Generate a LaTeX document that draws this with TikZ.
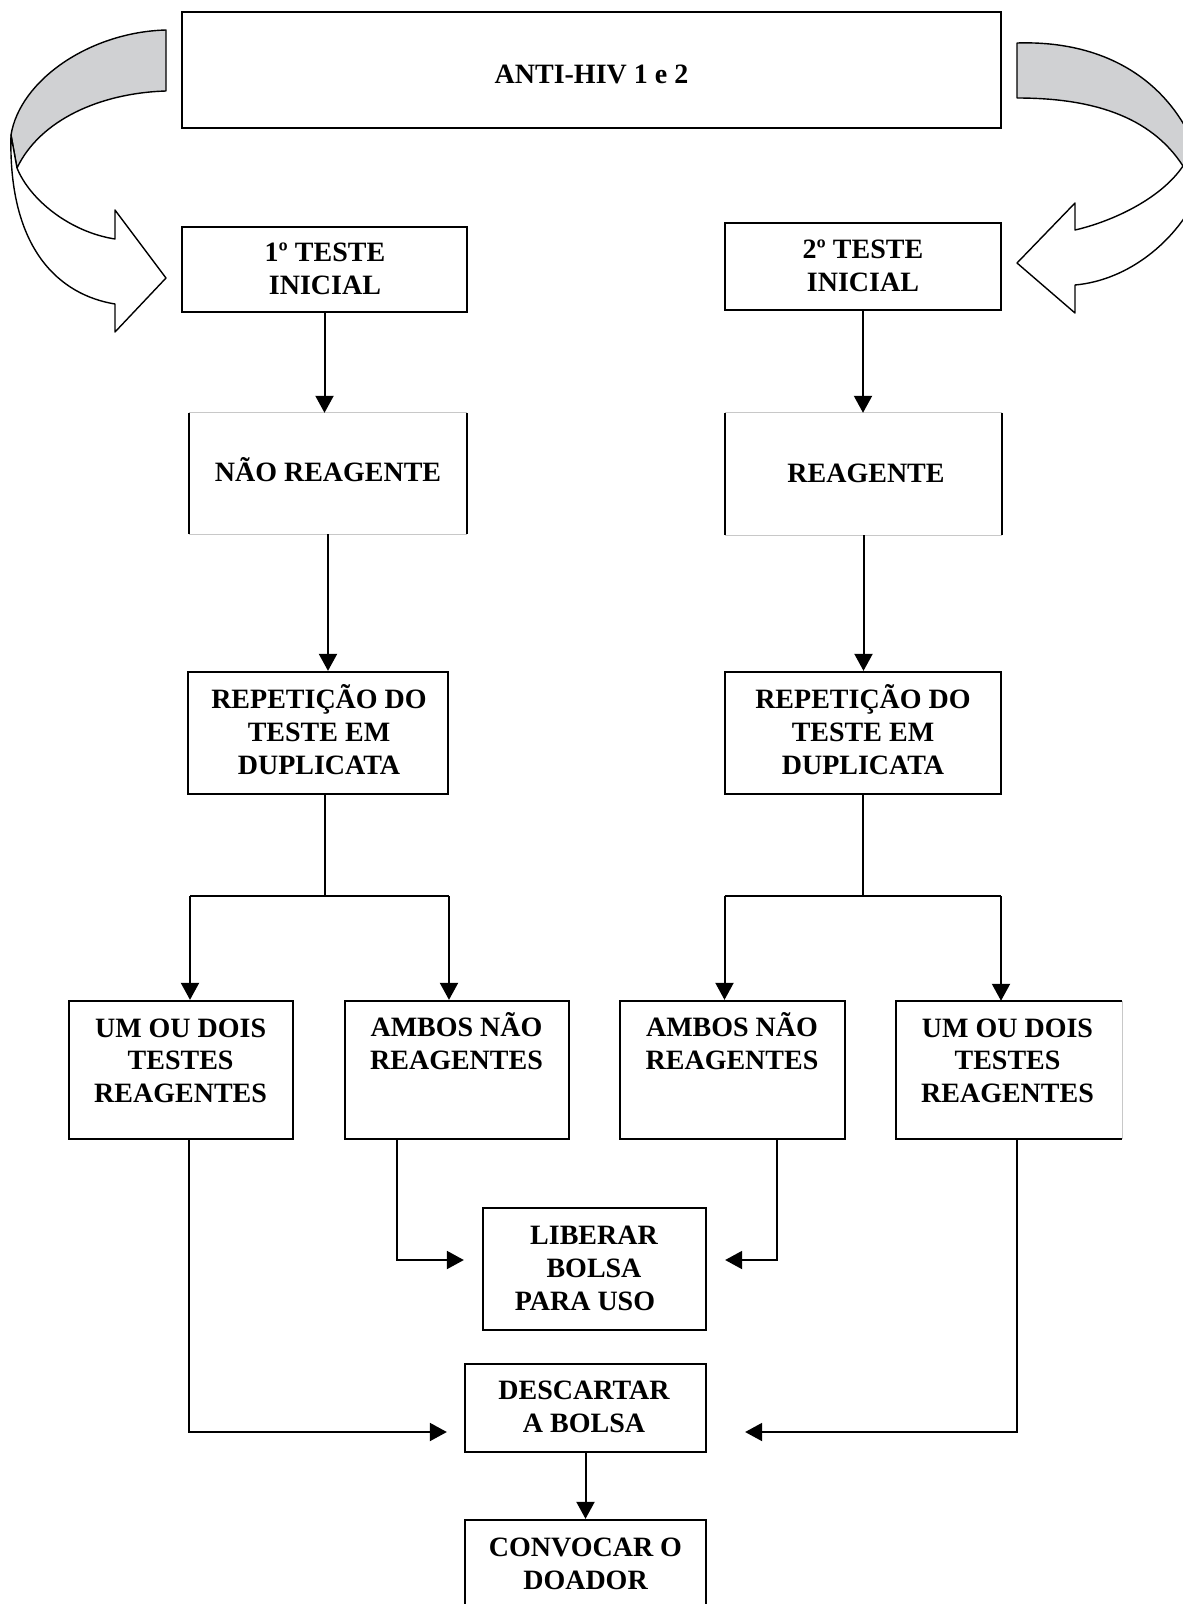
\documentclass[tikz,border=0pt]{standalone}
\usepackage{fontspec}
\setmainfont{Liberation Serif}
\usetikzlibrary{arrows.meta}
\definecolor{ribgray}{RGB}{208,209,211}
\definecolor{edgegray}{RGB}{200,200,200}
\begin{document}
\begin{tikzpicture}[x=1pt,y=-1pt,
  box/.style={draw=black, line width=2.3pt, rectangle, inner sep=0pt},
  openbox/.style={rectangle, inner sep=0pt},
  blackedge/.style={draw=black, line width=2.3pt},
  grayedge/.style={draw=edgegray, line width=1.2pt},
  txt/.style={font=\fontsize{28}{32.7}\selectfont\bfseries, align=center, inner sep=0pt},
  con/.style={line width=2pt, draw=black},
  thin/.style={line width=1.4pt, draw=black},
  arr/.style={con, -{Triangle[width=18pt,length=17pt]}},
  ribbon/.style={line width=1.4pt, draw=black, line join=round},
]
\useasboundingbox (0,0) rectangle (1183,1604);
\clip (0,0) rectangle (1183,1604);
\fill[white] (0,0) rectangle (1183,1604);

% ---- curved ribbons ----
\draw[ribbon, fill=ribgray] (166,30) .. controls (90,32) and (20,80) .. (11,135)
  -- (17,168) .. controls (40,120) and (100,93) .. (166,91) -- cycle;
\draw[ribbon, fill=white] (11,135) .. controls (8,250) and (60,295) .. (115,304)
  -- (115,332) -- (166,278) -- (115,210) -- (115,239)
  .. controls (70,232) and (30,200) .. (17,168) -- cycle;

\draw[ribbon, fill=ribgray] (1017,43) .. controls (1110,40) and (1175,85) .. (1200,160)
  -- (1183,166) .. controls (1150,115) and (1090,98) .. (1017,98) -- cycle;
\draw[ribbon, fill=white] (1183,166) .. controls (1160,200) and (1110,222) .. (1075,230)
  -- (1075,203) -- (1017,263) -- (1075,313) -- (1075,285)
  .. controls (1130,280) and (1175,240) .. (1195,200) -- (1200,160) -- cycle;

% ---- boxes ----
\node[box, minimum width=819pt, minimum height=116pt] (top) at (591.5,70) {};
\node[box, minimum width=285pt, minimum height=85pt] (t1) at (324.5,269.5) {};
\node[box, minimum width=276pt, minimum height=87pt] (t2) at (863,266.5) {};

\node[openbox, minimum width=278pt, minimum height=121pt] (nr) at (328,473.5) {};
\draw[grayedge] (nr.north west) -- (nr.north east);
\draw[grayedge] (nr.south west) -- (nr.south east);
\draw[blackedge] (nr.north west) -- (nr.south west);
\draw[blackedge] (nr.north east) -- (nr.south east);

\node[openbox, minimum width=277pt, minimum height=122pt] (r) at (863.5,474) {};
\draw[grayedge] (r.north west) -- (r.north east);
\draw[grayedge] (r.south west) -- (r.south east);
\draw[blackedge] (r.north west) -- (r.south west);
\draw[blackedge] (r.north east) -- (r.south east);

\node[box, minimum width=260pt, minimum height=122pt] (rep1) at (318,733) {};
\node[box, minimum width=276pt, minimum height=122pt] (rep2) at (863,733) {};

\node[box, minimum width=224pt, minimum height=138pt] (u1) at (181,1070) {};
\node[box, minimum width=224pt, minimum height=138pt] (a1) at (457,1070) {};
\node[box, minimum width=225pt, minimum height=138pt] (a2) at (732.5,1070) {};
\node[openbox, minimum width=226pt, minimum height=138pt] (u2) at (1009,1070) {};
\draw[blackedge] (u2.north east) -- (u2.north west) -- (u2.south west) -- (u2.south east);
\draw[grayedge] (u2.north east) -- (u2.south east);

\node[box, minimum width=223pt, minimum height=122pt] (lib) at (594.5,1269) {};
\node[box, minimum width=241pt, minimum height=88pt] (desc) at (585.5,1408) {};
\node[box, minimum width=241pt, minimum height=110pt] (conv) at (585.5,1575) {};

% ---- texts ----
\node[txt] (topt) at (591.5,74) {ANTI-HIV 1 e 2};
\node[txt] (t1t) at (325,268.5) {1º TESTE\\INICIAL};
\node[txt] (t2t) at (863,266) {2º TESTE\\INICIAL};
\node[txt] (nrt) at (328,470) {NÃO REAGENTE};
\node[txt] (rt) at (866,473) {REAGENTE};
\node[txt] (rep1t) at (319,729.75) {REPETIÇÃO DO\\TESTE EM\\DUPLICATA};
\node[txt] (rep2t) at (863,729.75) {REPETIÇÃO DO\\TESTE EM\\DUPLICATA};
\node[txt] (u1t) at (180.6,1060.75) {UM OU DOIS\\TESTES\\REAGENTES};
\node[txt] (a1t) at (456.5,1041.25) {AMBOS NÃO\\REAGENTES};
\node[txt] (a2t) at (732,1041.25) {AMBOS NÃO\\REAGENTES};
\node[txt] (u2t) at (1007.5,1060.75) {UM OU DOIS\\TESTES\\REAGENTES};
\node[txt] (libt) at (594,1268.5) {LIBERAR\\BOLSA\\PARA USO\hspace*{18pt}};
\node[txt] (desct) at (584,1406.75) {DESCARTAR\\A BOLSA};
\node[txt] (convt) at (585.5,1564) {CONVOCAR O\\DOADOR};

% ---- connectors ----
\draw[arr] (t1.south) -- (t1.south |- nr.north);
\draw[arr] (t2.south) -- (t2.south |- r.north);
\draw[arr] (nr.south) -- (nr.south |- rep1.north);
\draw[arr] (r.south) -- (r.south |- rep2.north);

\coordinate (j1) at (325,896);
\draw[con] (j1 |- rep1.south) -- (j1);
\coordinate (j1l) at ([xshift=9pt]u1.north |- j1);
\coordinate (j1r) at ([xshift=-8pt]a1.north |- j1);
\draw[thin] (j1l) -- (j1r);
\draw[arr] (j1l) -- ([xshift=9pt]u1.north);
\draw[arr] (j1r) -- ([xshift=-8pt]a1.north);

\coordinate (j2) at (863,896);
\draw[con] (rep2.south) -- (j2);
\coordinate (j2l) at ([xshift=-8pt]a2.north |- j2);
\coordinate (j2r) at ([xshift=-8pt]u2.north |- j2);
\draw[thin] (j2l) -- (j2r);
\draw[arr] (j2l) -- ([xshift=-8pt]a2.north);
\draw[arr] (j2r) -- ([xshift=-8pt]u2.north);

\draw[arr] ([xshift=8pt]u1.south) |- ([xshift=-17pt,yshift=-24pt]desc.west);
\draw[arr] ([xshift=-60pt]a1.south) |- ([xshift=-18pt,yshift=9pt]lib.west);
\draw[arr] ([xshift=44.5pt]a2.south) |- ([xshift=18pt,yshift=9pt]lib.east);
\draw[arr] ([xshift=8pt]u2.south) |- ([xshift=38pt,yshift=-24pt]desc.east);
\draw[arr] (desc.south) -- (conv.north);
\end{tikzpicture}
\end{document}
